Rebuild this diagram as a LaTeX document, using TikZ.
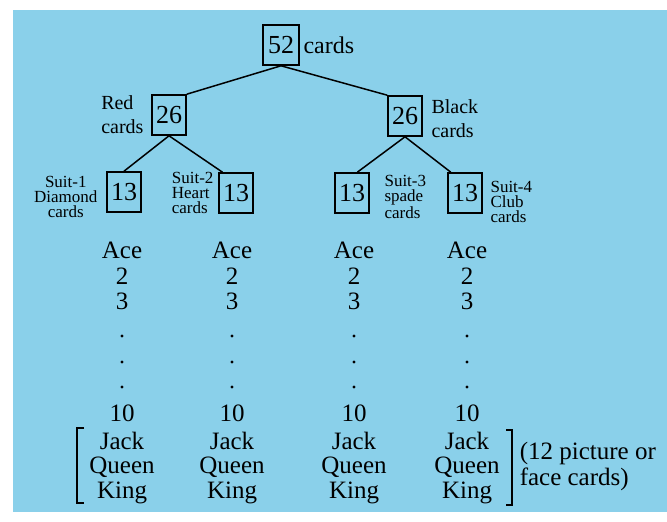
\documentclass[tikz,border=0pt]{standalone}
\usepackage{fontspec}
\setmainfont{Liberation Serif}
\newfontfamily\cardfont{Liberation Serif}
\usetikzlibrary{calc,positioning}

\definecolor{pageblue}{RGB}{138,208,234}

\begin{document}
\begin{tikzpicture}[
    x=0.5pt, y=-0.5pt,
    line width=0.75pt,
    numbox/.style={draw, line width=0.8pt, minimum width=17pt, minimum height=20pt,
        inner sep=0pt, font=\cardfont\fontsize{13}{13}\selectfont},
    tag/.style={inner sep=0pt, align=left, font=\cardfont\fontsize{8.5}{7.5}\selectfont},
    sidetag/.style={inner sep=0pt, align=left, font=\cardfont\fontsize{10}{12}\selectfont},
    rank/.style={inner sep=0pt, font=\cardfont\fontsize{12.5}{12.5}\selectfont}
]
\useasboundingbox (0,0) rectangle (667,522);
\fill[white] (0,0) rectangle (667,522);
\fill[pageblue] (13,10) rectangle (667,512);

% tree of suits
\node[numbox, minimum width=18pt] (c52) at (281,45) {52};
\node[rank, anchor=west, font=\cardfont\fontsize{12}{12}\selectfont] (c52txt) at ([xshift=1.5pt]c52.east) {cards};

\node[numbox] (red) at (169,115) {26};
\node[sidetag, left=3.5pt of red] (redtxt) {Red\\cards};
\node[numbox] (black) at (405,116) {26};
\node[sidetag, right=4pt of black, yshift=-1.5pt] (blacktxt) {Black\\cards};

\node[numbox] (s1) at (124,192) {13};
\node[tag, align=center, left=4pt of s1, yshift=-2.5pt] (s1txt) {Suit-1\\Diamond\\cards};
\node[numbox] (s2) at (236,193) {13};
\node[tag, left=2pt of s2] (s2txt) {Suit-2\\Heart\\cards};
\node[numbox] (s3) at (352,193) {13};
\node[tag, right=7pt of s3, yshift=-2pt] (s3txt) {Suit-3\\spade\\cards};
\node[numbox] (s4) at (465,193) {13};
\node[tag, right=3.5pt of s4, yshift=-4.5pt] (s4txt) {Suit-4\\Club\\cards};

\draw (c52.south) -- (red.north east);
\draw (c52.south) -- (black.north west);
\draw (red.south) -- (s1.north);
\draw (red.south) -- ($(s2.north west)!0.12!(s2.north east)$);
\draw (black.south) -- ($(s3.north west)!0.65!(s3.north east)$);
\draw (black.south) -- ($(s4.north west)!0.1!(s4.north east)$);

% cards of each suit
\foreach \col/\x in {1/122, 2/232, 3/354, 4/467} {
    \foreach \r/\y/\t in {ace/250/Ace, two/276/2, three/301/3, ten/413/10,
        jack/441/Jack, queen/467/Queen, king/493/King}
        \node[rank] (\r\col) at (\x,\y) {\t};
    \foreach \y in {336, 362, 387}
        \fill (\x,\y) circle (0.8pt);
}

% picture cards
\draw[line width=1pt] (84,428) -- (77,428) -- (77,503) -- (84,503);
\draw[line width=1pt] (506,430) -- (512,430) -- (512,505) -- (506,505);
\node[inner sep=0pt, anchor=west, align=left, font=\cardfont\fontsize{12.5}{13}\selectfont]
    (facenote) at (519,466) {(12 picture or\\face cards)};
\end{tikzpicture}
\end{document}
